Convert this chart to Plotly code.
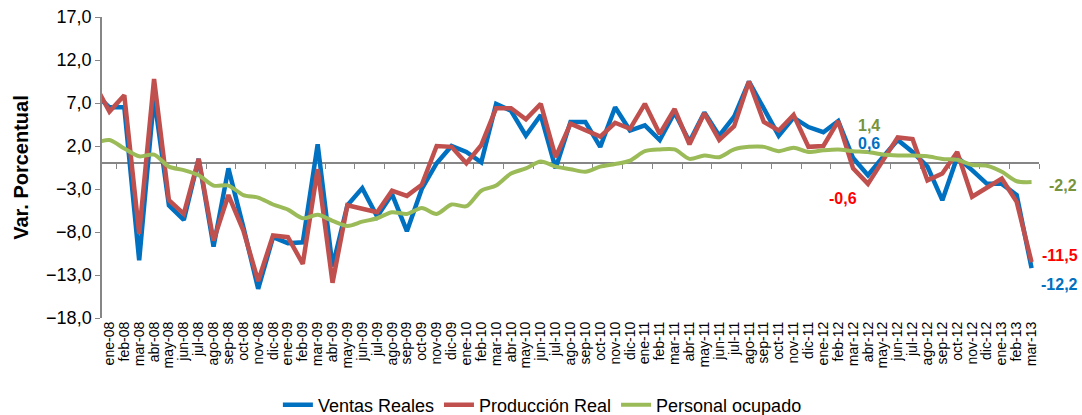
import plotly.graph_objects as go

# Categories (first one, dic-07, lies just outside the visible range; only its segment shows)
meses = [
    "dic-07",
    "ene-08", "feb-08", "mar-08", "abr-08", "may-08", "jun-08", "jul-08", "ago-08", "sep-08", "oct-08", "nov-08", "dic-08",
    "ene-09", "feb-09", "mar-09", "abr-09", "may-09", "jun-09", "jul-09", "ago-09", "sep-09", "oct-09", "nov-09", "dic-09",
    "ene-10", "feb-10", "mar-10", "abr-10", "may-10", "jun-10", "jul-10", "ago-10", "sep-10", "oct-10", "nov-10", "dic-10",
    "ene-11", "feb-11", "mar-11", "abr-11", "may-11", "jun-11", "jul-11", "ago-11", "sep-11", "oct-11", "nov-11", "dic-11",
    "ene-12", "feb-12", "mar-12", "abr-12", "may-12", "jun-12", "jul-12", "ago-12", "sep-12", "oct-12", "nov-12", "dic-12",
    "ene-13", "feb-13", "mar-13",
]

ventas_reales = [
    8.1,
    6.5, 6.5, -11.3, 7.7, -4.9, -6.6, 0.5, -9.7, -0.6, -7.4, -14.6, -8.6,
    -9.3, -9.2, 2.2, -12.0, -4.9, -2.9, -6.2, -3.6, -7.9, -3.0, 0.0, 2.0,
    1.3, 0.1, 6.9, 6.1, 3.2, 5.6, -0.6, 4.8, 4.8, 1.9, 6.5, 3.8,
    4.4, 2.7, 5.9, 2.5, 5.9, 3.2, 5.4, 9.5, 6.4, 3.2, 5.3, 4.2,
    3.6, 4.9, 0.6, -1.4, 0.7, 2.7, 1.3, -0.4, -4.3, 0.7, -0.8, -2.4,
    -2.4, -3.7, -12.2,
]

produccion_real = [
    9.2,
    6.0, 7.9, -8.2, 9.8, -4.3, -5.9, 0.5, -9.0, -3.7, -7.8, -13.7, -8.4,
    -8.6, -11.7, -0.7, -13.9, -4.9, -5.3, -5.7, -3.2, -3.8, -2.5, 2.0, 1.9,
    0.0, 2.1, 6.4, 6.4, 5.1, 6.9, 0.7, 4.6, 3.8, 3.1, 4.7, 4.0,
    6.9, 3.4, 6.3, 2.2, 5.8, 2.7, 4.3, 9.5, 4.8, 3.8, 5.6, 1.9,
    2.0, 4.9, -0.6, -2.4, 0.3, 3.0, 2.8, -2.0, -1.2, 1.3, -3.9, -2.9,
    -1.8, -4.5, -11.5,
]

personal_ocupado = [
    2.3,
    2.7, 1.7, 0.8, 1.0, -0.4, -0.8, -1.4, -2.6, -2.6, -3.7, -4.0, -4.8,
    -5.4, -6.4, -6.0, -6.7, -7.3, -6.8, -6.4, -5.7, -5.9, -5.2, -5.9, -4.8,
    -5.0, -3.2, -2.6, -1.2, -0.6, 0.2, -0.4, -0.7, -1.0, -0.4, -0.1, 0.3,
    1.4, 1.6, 1.6, 0.5, 0.9, 0.7, 1.6, 1.9, 1.9, 1.4, 1.8, 1.3,
    1.5, 1.6, 1.4, 1.3, 1.0, 0.9, 0.9, 0.8, 0.5, 0.4, -0.2, -0.3,
    -1.0, -2.1, -2.2,
]

y_ticks = [-18, -13, -8, -3, 2, 7, 12, 17]

AZUL = "#0070C0"
ROJO = "#C0504D"
VERDE = "#9BBB59"
GRIS = "#868686"
FONT = "Liberation Sans"

fig = go.Figure()

# invisible trace to establish the zero-crossing category axis
fig.add_trace(go.Scatter(x=meses, y=personal_ocupado, xaxis="x2", yaxis="y",
                         mode="lines", line=dict(width=0), opacity=0,
                         showlegend=False, hoverinfo="skip"))

fig.add_trace(go.Scatter(x=meses, y=ventas_reales, name="Ventas Reales", mode="lines",
                         line=dict(color=AZUL, width=4.5)))
fig.add_trace(go.Scatter(x=meses, y=produccion_real, name="Producción Real", mode="lines",
                         line=dict(color=ROJO, width=4.5)))
fig.add_trace(go.Scatter(x=meses, y=personal_ocupado, name="Personal ocupado", mode="lines",
                         line=dict(color=VERDE, width=4, shape="spline", smoothing=0.8)))

n = len(meses)
x_range = [0.5, n - 0.5]
y_range = [-18, 17]

def ann(text, serie, idx, color, xshift, yshift):
    fig.add_annotation(x=meses[idx], y=serie[idx], xref="x", yref="y", text=text,
                       showarrow=False, xshift=xshift, yshift=yshift,
                       font=dict(family=FONT, size=16, color=color, weight="bold"))

i_mar12 = meses.index("mar-12")
i_last = n - 1
ann("1,4", personal_ocupado, i_mar12, "#77933C", 16, 26)
ann("0,6", ventas_reales, i_mar12, AZUL, 16, 15)
ann("-0,6", produccion_real, i_mar12, "#FF0000", -10, -30)
ann("-2,2", personal_ocupado, i_last, "#77933C", 31, -3)
ann("-11,5", produccion_real, i_last, "#FF0000", 28, 7)
ann("-12,2", ventas_reales, i_last, AZUL, 28, -16)

fig.update_layout(
    width=1082, height=415,
    margin=dict(l=102, r=43, t=17, b=97),
    paper_bgcolor="white", plot_bgcolor="white",
    separators=",.",
    font=dict(family=FONT, color="#000000"),
    showlegend=True,
    legend=dict(orientation="h", x=0.47, xanchor="center",
                yref="container", y=0.024, yanchor="middle",
                font=dict(family=FONT, size=18, color="#000000"),
                bgcolor="rgba(0,0,0,0)"),
    xaxis=dict(type="category", categoryorder="array", categoryarray=meses,
               range=x_range, tickmode="array", tickvals=meses[1:], ticktext=meses[1:],
               tickangle=-90, ticks="", showline=False, showgrid=False, automargin=False,
               zeroline=False, tickfont=dict(family=FONT, size=14, color="#000000")),
    xaxis2=dict(type="category", categoryorder="array", categoryarray=meses,
                overlaying="x", anchor="free",
                position=(0 - y_range[0]) / (y_range[1] - y_range[0]),
                range=x_range, showticklabels=False, ticks="outside", ticklen=5,
                tickcolor=GRIS, tickson="boundaries", showline=True, linecolor=GRIS,
                linewidth=1.5, showgrid=False, zeroline=False, layer="below traces"),
    yaxis=dict(range=y_range, tickvals=y_ticks, tickformat=".1f", ticks="outside",
               ticklen=5, tickcolor=GRIS, showline=True, linecolor=GRIS, linewidth=1.5,
               showgrid=False, zeroline=False, automargin=False, ticklabeloverflow="allow",
               tickfont=dict(family=FONT, size=18, color="#000000"),
               title=dict(text="Var. Porcentual", standoff=12,
                          font=dict(family=FONT, size=20, color="#000000", weight="bold"))),
)

fig.write_html(
    "out.html",
    config={"displayModeBar": False},
    post_script="document.body.style.margin='0';document.body.style.overflow='hidden';",
)
